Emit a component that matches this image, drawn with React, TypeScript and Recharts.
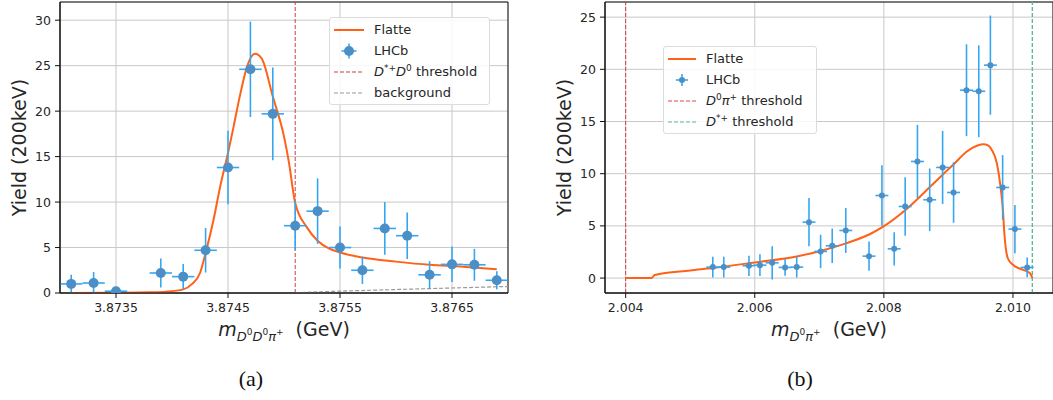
import React from 'react';
import {
  ComposedChart,
  Line,
  Scatter,
  ErrorBar,
  XAxis,
  YAxis,
  CartesianGrid,
  ReferenceLine,
  ReferenceArea,
  Legend,
  Label
} from 'recharts';

// ---- panel (a): m(D0 D0 pi+) ----
const massA = [3.8731, 3.8733, 3.8735, 3.8739, 3.8741, 3.8743, 3.8745, 3.8747, 3.8749, 3.8751, 3.8753, 3.8755, 3.8757, 3.8759, 3.8761, 3.8763, 3.8765, 3.8767, 3.8769];
const yieldA = [1.0, 1.1, 0.2, 2.2, 1.8, 4.7, 13.8, 24.6, 19.7, 7.4, 9.0, 5.0, 2.5, 7.1, 6.3, 2.0, 3.15, 3.1, 1.4];
const errA = [1.0, 1.2, 0.2, 1.6, 1.4, 2.45, 4.05, 5.25, 5.1, 2.7, 3.6, 2.3, 1.5, 2.9, 2.55, 1.5, 1.95, 1.75, 1.0];
const binHalfA = 0.0001;

const flatteMassA = [3.8731, 3.8735, 3.8738, 3.87395, 3.8741, 3.87418, 3.87425, 3.8743, 3.87437, 3.87443, 3.8745, 3.87455, 3.87461, 3.87467, 3.87474, 3.8748, 3.8749, 3.875, 3.87505, 3.87508, 3.8751, 3.8752, 3.8753, 3.8754, 3.8755, 3.8757, 3.876, 3.8763, 3.8766, 3.8769];
const flatteA = [0.0, 0.03, 0.08, 0.15, 0.4, 1.0, 2.2, 4.4, 8.0, 11.7, 15.4, 18.3, 21.9, 24.9, 26.3, 25.8, 21.6, 17.2, 13.9, 11.3, 9.9, 7.3, 5.75, 4.9, 4.45, 3.9, 3.45, 3.1, 2.9, 2.6];

const bgMassA = [3.8751, 3.8755, 3.876, 3.8765, 3.877];
const bgA = [0.03, 0.2, 0.38, 0.55, 0.72];

const thresholdA = 3.8751;
const xDomainA = [3.873, 3.877];
const yDomainA = [0, 32];
const xTicksA = [3.8735, 3.8745, 3.8755, 3.8765];
const yTicksA = [0, 5, 10, 15, 20, 25, 30];

// ---- panel (b): m(D0 pi+) ----
const massB = [2.00535, 2.00552, 2.00591, 2.00608, 2.00627, 2.00647, 2.00665, 2.00684, 2.00702, 2.0072, 2.00741, 2.00777, 2.00797, 2.00816, 2.00833, 2.00852, 2.00871, 2.00891, 2.00908, 2.00928, 2.00947, 2.00965, 2.00984, 2.01003, 2.01022];
const yieldB = [1.05, 1.05, 1.18, 1.24, 1.46, 1.02, 1.05, 5.36, 2.55, 3.09, 4.56, 2.1, 7.91, 2.8, 6.86, 11.17, 7.5, 10.6, 8.2, 18.0, 17.9, 20.4, 8.68, 4.69, 1.02];
const errB = [1.0, 1.0, 0.97, 1.05, 1.6, 0.8, 1.0, 2.3, 1.6, 1.65, 2.15, 1.4, 2.9, 1.6, 2.8, 3.5, 3.0, 3.5, 2.9, 4.4, 4.4, 4.75, 3.1, 2.3, 0.95];
const binHalfB = 0.0001;

const flatteMassB = [2.004, 2.0044, 2.00445, 2.005, 2.00535, 2.006, 2.00665, 2.00702, 2.0074, 2.00778, 2.00797, 2.00833, 2.00872, 2.00891, 2.00909, 2.00928, 2.00945, 2.00954, 2.00962, 2.00967, 2.00975, 2.0098, 2.00984, 2.00987, 2.00992, 2.01, 2.01015, 2.01026, 2.0103];
const flatteB = [0, 0, 0.3, 0.73, 0.96, 1.5, 2.07, 2.6, 3.3, 4.2, 4.85, 6.5, 8.77, 9.9, 10.95, 12.1, 12.7, 12.83, 12.7, 12.3, 11.0, 9.1, 6.86, 4.0, 1.9, 1.27, 0.8, 0.48, 0.0];

const thresholdB1 = 2.004;
const thresholdB2 = 2.0103;
const xDomainB = [2.00368, 2.01062];
const yDomainB = [-1.43, 26.45];
const xTicksB = [2.004, 2.006, 2.008, 2.01];
const yTicksB = [0, 5, 10, 15, 20, 25];

const FONT = 'DejaVu Sans, sans-serif';
const ORANGE = '#ff6119';
const MARKER = '#4b8fc6';
const ERRBAR = '#35a7f2';
const GRID = '#c8c8c8';

const pts = (xs: number[], ys: number[], es?: number[], half?: number) =>
  xs.map((x, i) => ({ x, y: ys[i], ey: es ? es[i] : 0, ex: half ?? 0 }));

const tickStyle = { fill: '#262626', fontSize: 12.5, fontFamily: FONT };

const yLabel = (props: any) => {
  const { x, y, height } = props.viewBox;
  const cx = x - 1.5;
  const cy = y + height / 2;
  return (
    <text x={cx} y={cy} transform={`rotate(-90 ${cx} ${cy})`} textAnchor="middle" dominantBaseline="central"
      fontSize={19} fontFamily={FONT} fill="#262626">
      Yield (200keV)
    </text>
  );
};

const xLabel = (sub: React.ReactNode, back: number, capX: number, cap: string) => (props: any) => {
  const { x, y, width } = props.viewBox;
  return (
    <g>
      <text x={x + width / 2} y={y + 43} textAnchor="middle" fontSize={19} fontFamily={FONT} fill="#262626"
        style={{ whiteSpace: 'pre' }}>
        <tspan fontStyle="italic">m</tspan>
        {sub}
        <tspan dy={back}>{'  (GeV)'}</tspan>
      </text>
      <text x={capX} y={386} textAnchor="middle" fontSize={22} fontFamily="Liberation Serif, serif" fill="#111">
        {cap}
      </text>
    </g>
  );
};

const subA = (
  <>
    <tspan fontSize={13} fontStyle="italic" dy={5}>D</tspan>
    <tspan fontSize={9} dy={-6}>0</tspan>
    <tspan fontSize={13} fontStyle="italic" dy={6}>D</tspan>
    <tspan fontSize={9} dy={-6}>0</tspan>
    <tspan fontSize={13} fontStyle="italic" dy={6}>π</tspan>
    <tspan fontSize={9} dy={-6}>+</tspan>
  </>
);

const subB = (
  <>
    <tspan fontSize={13} fontStyle="italic" dy={5}>D</tspan>
    <tspan fontSize={9} dy={-6}>0</tspan>
    <tspan fontSize={13} fontStyle="italic" dy={6}>π</tspan>
    <tspan fontSize={9} dy={-6}>+</tspan>
  </>
);

const LineIcon = ({ color, dash, w = 30 }: any) => (
  <svg width={w} height={14}>
    <line x1={0} y1={7} x2={w} y2={7} stroke={color} strokeWidth={dash ? 1.2 : 2} strokeDasharray={dash} />
  </svg>
);

const PointIcon = ({ r, arm, w = 30 }: any) => (
  <svg width={w} height={16}>
    <line x1={w / 2 - arm} y1={8} x2={w / 2 + arm} y2={8} stroke={ERRBAR} strokeWidth={1.6} />
    <line x1={w / 2} y1={8 - arm} x2={w / 2} y2={8 + arm} stroke={ERRBAR} strokeWidth={1.6} />
    <circle cx={w / 2} cy={8} r={r} fill={MARKER} />
  </svg>
);

const LegendBox = ({ rows, iconW }: any) => (
  <div style={{
    border: '1px solid #dcdcdc', borderRadius: 3, background: 'rgba(255,255,255,0.85)',
    padding: '1px 0 1px 4px', fontFamily: FONT, fontSize: 13, color: '#262626', boxSizing: 'border-box'
  }}>
    {rows.map((r: any, i: number) => (
      <div key={i} style={{ display: 'flex', alignItems: 'center', height: 21 }}>
        <div style={{ width: iconW, display: 'flex', justifyContent: 'center', marginRight: 10 }}>{r.icon}</div>
        <span>{r.label}</span>
      </div>
    ))}
  </div>
);

const legendRowsA = [
  { icon: <LineIcon color={ORANGE} />, label: 'Flatte' },
  { icon: <PointIcon r={5} arm={7.5} />, label: 'LHCb' },
  { icon: <LineIcon color="#c94040" dash="4 2" />, label: <><i>D</i><sup style={{ fontSize: 9 }}>*+</sup><i>D</i><sup style={{ fontSize: 9 }}>0</sup> threshold</> },
  { icon: <LineIcon color="#999" dash="4 2" />, label: 'background' }
];

const legendRowsB = [
  { icon: <LineIcon color={ORANGE} w={28} />, label: 'Flatte' },
  { icon: <PointIcon r={3} arm={6} w={28} />, label: 'LHCb' },
  { icon: <LineIcon color="#e04848" dash="4 2" w={28} />, label: <><i>D</i><sup style={{ fontSize: 9 }}>0</sup><i>π</i><sup style={{ fontSize: 9 }}>+</sup> threshold</> },
  { icon: <LineIcon color="#5fb890" dash="4 2" w={28} />, label: <><i>D</i><sup style={{ fontSize: 9 }}>*+</sup> threshold</> }
];

const PanelA = () => {
  const points = pts(massA, yieldA, errA, binHalfA);
  const curve = pts(flatteMassA, flatteA);
  const bg = pts(bgMassA, bgA);
  return (
    <ComposedChart width={520} height={400} margin={{ top: 2, right: 12, left: 20, bottom: 77 }}>
      <CartesianGrid stroke={GRID} strokeWidth={1} />
      <XAxis type="number" dataKey="x" domain={xDomainA} ticks={xTicksA} allowDataOverflow
        tickFormatter={(v: number) => v.toFixed(4)} tick={tickStyle} tickSize={5} tickMargin={5}
        height={30} stroke="#111">
        <Label content={xLabel(subA, 1, 251, '(a)')} />
      </XAxis>
      <YAxis type="number" domain={yDomainA} ticks={yTicksA} allowDataOverflow width={40}
        tick={tickStyle} tickSize={5} tickMargin={4} stroke="#111">
        <Label content={yLabel} />
      </YAxis>
      <ReferenceArea x1={xDomainA[0]} x2={xDomainA[1]} y1={yDomainA[0]} y2={yDomainA[1]}
        fill="none" stroke="#111" strokeWidth={1} ifOverflow="visible" />
      <ReferenceLine x={thresholdA} stroke="#c94040" strokeDasharray="4 2" strokeWidth={1} />
      <Line data={bg} dataKey="y" type="monotone" stroke="#999" strokeDasharray="4 2" strokeWidth={1.2}
        dot={false} isAnimationActive={false} />
      <Line data={curve} dataKey="y" type="monotone" stroke={ORANGE} strokeWidth={2}
        dot={false} isAnimationActive={false} />
      <Scatter data={points} dataKey="y" isAnimationActive={false}
        shape={(p: any) => <circle cx={p.cx} cy={p.cy} r={5} fill={MARKER} />}>
        <ErrorBar dataKey="ey" direction="y" width={0} stroke={ERRBAR} strokeWidth={1.6} />
        <ErrorBar dataKey="ex" direction="x" width={0} stroke={ERRBAR} strokeWidth={1.6} />
      </Scatter>
      <Legend verticalAlign="middle" align="center" layout="horizontal"
        wrapperStyle={{ left: 329, top: 17, width: 161, height: 86 }}
        content={() => <LegendBox rows={legendRowsA} iconW={30} />} />
    </ComposedChart>
  );
};

const PanelB = () => {
  const points = pts(massB, yieldB, errB, binHalfB);
  const curve = pts(flatteMassB, flatteB);
  return (
    <ComposedChart width={523} height={400} margin={{ top: 2, right: 0, left: 35, bottom: 77 }}>
      <CartesianGrid stroke={GRID} strokeWidth={1} />
      <XAxis type="number" dataKey="x" domain={xDomainB} ticks={xTicksB} allowDataOverflow
        tickFormatter={(v: number) => v.toFixed(3)} tick={tickStyle} tickSize={5} tickMargin={5}
        height={30} stroke="#111">
        <Label content={xLabel(subB, 1, 270, '(b)')} />
      </XAxis>
      <YAxis type="number" domain={yDomainB} ticks={yTicksB} allowDataOverflow width={40}
        tick={tickStyle} tickSize={5} tickMargin={4} stroke="#111">
        <Label content={yLabel} />
      </YAxis>
      <ReferenceArea x1={xDomainB[0]} x2={xDomainB[1]} y1={yDomainB[0]} y2={yDomainB[1]}
        fill="none" stroke="#111" strokeWidth={1} ifOverflow="visible" />
      <ReferenceLine x={thresholdB1} stroke="#d04040" strokeDasharray="4 2" strokeWidth={1} />
      <ReferenceLine x={thresholdB2} stroke="#5fb890" strokeDasharray="4 2" strokeWidth={1.4} />
      <Line data={curve} dataKey="y" type="monotone" stroke={ORANGE} strokeWidth={2}
        dot={false} isAnimationActive={false} />
      <Scatter data={points} dataKey="y" isAnimationActive={false}
        shape={(p: any) => <circle cx={p.cx} cy={p.cy} r={3} fill={MARKER} />}>
        <ErrorBar dataKey="ey" direction="y" width={0} stroke={ERRBAR} strokeWidth={1.6} />
        <ErrorBar dataKey="ex" direction="x" width={0} stroke={ERRBAR} strokeWidth={1.6} />
      </Scatter>
      <Legend verticalAlign="middle" align="center" layout="horizontal"
        wrapperStyle={{ left: 133, top: 46, width: 154, height: 86 }}
        content={() => <LegendBox rows={legendRowsB} iconW={28} />} />
    </ComposedChart>
  );
};

export default function App() {
  return (
    <div style={{ position: 'absolute', left: 0, top: 0, width: 1053, height: 400, background: '#fff', overflow: 'hidden' }}>
      <div style={{ position: 'absolute', left: 0, top: 0 }}>
        <PanelA />
      </div>
      <div style={{ position: 'absolute', left: 530, top: 0 }}>
        <PanelB />
      </div>
    </div>
  );
}
